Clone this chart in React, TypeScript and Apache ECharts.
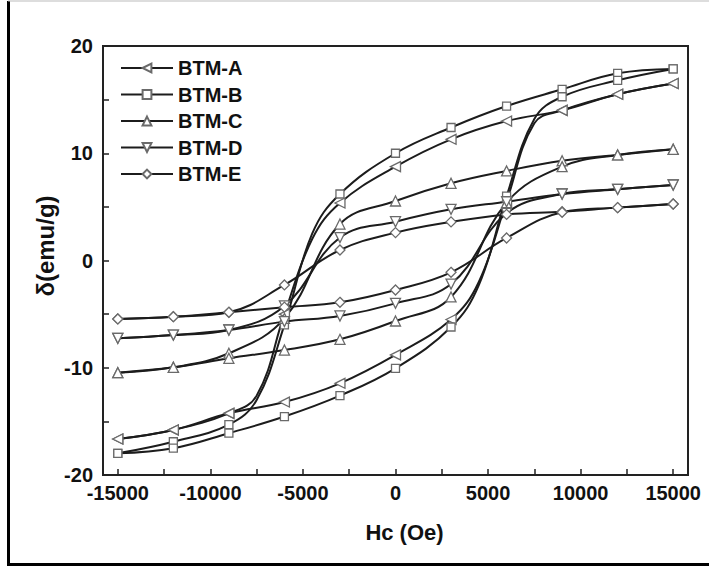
import React, { useEffect, useRef } from "react";
import * as echarts from "echarts";

// Field values (Oe) at which markers are drawn
const xMarked = [15000, 12000, 9000, 6000, 3000, 0, -3000, -6000, -9000, -12000, -15000];
const xMarkedAsc = [-15000, -12000, -9000, -6000, -3000, 0, 3000, 6000, 9000, 12000, 15000];
const xTickLabels = [-15000, -10000, -5000, 0, 5000, 10000, 15000];

// Descending (upper) branches, read at xMarked
const A_upper = [16.5, 15.5, 14.0, 13.0, 11.3, 8.75, 5.36, -5.0, -14.25, -15.8, -16.64];
const B_upper = [17.86, 17.45, 15.96, 14.4, 12.4, 10.0, 6.2, -6.0, -15.3, -16.9, -17.98];
const C_upper = [10.37, 9.84, 9.3, 8.35, 7.2, 5.55, 3.4, -5.4, -8.65, -9.96, -10.46];
const D_upper = [7.04, 6.64, 6.2, 5.48, 4.77, 3.62, 2.14, -4.24, -6.48, -6.95, -7.26];
const E_upper = [5.27, 4.93, 4.55, 4.3, 3.6, 2.6, 0.98, -2.28, -4.83, -5.24, -5.45];

// Ascending (lower) branches, read at xMarkedAsc
const A_lower = [-16.64, -15.8, -14.25, -13.2, -11.45, -8.8, -5.5, 5.5, 14.0, 15.5, 16.5];
const B_lower = [-17.98, -17.5, -16.1, -14.55, -12.6, -10.05, -6.2, 6.0, 15.27, 16.8, 17.86];
const C_lower = [-10.46, -9.96, -9.12, -8.35, -7.35, -5.64, -3.4, 5.4, 8.75, 9.84, 10.37];
const D_lower = [-7.26, -6.95, -6.48, -5.7, -5.17, -4.0, -2.2, 4.4, 6.2, 6.64, 7.04];
const E_lower = [-5.45, -5.24, -4.83, -4.35, -3.9, -2.75, -1.1, 2.1, 4.5, 4.93, 5.27];

// Extra unmarked points read along the steep parts of the curves
const A_upperExtra = [[-4500, 2.0], [-7500, -12.6]];
const B_upperExtra = [[-4500, 2.5], [-7500, -13.0]];
const A_lowerExtra = [[4500, -2.0], [7500, 12.8]];
const B_lowerExtra = [[4500, -2.3], [7500, 13.2]];

const names = ["BTM-A", "BTM-B", "BTM-C", "BTM-D", "BTM-E"];
const symbols = [
  "path://M0,5 L10,0 L10,10 Z",
  "rect",
  "path://M5,0 L10,9 L0,9 Z",
  "path://M0,0 L10,0 L5,9 Z",
  "diamond",
];

const FONT = "'Liberation Sans', Arial, sans-serif";

function buildBranch(xs: number[], ys: number[], extra: number[][], desc: boolean) {
  const pts: any[] = xs.map((x, i) => ({ value: [x, ys[i]] }));
  extra.forEach((p) => pts.push({ value: [p[0], p[1]], symbol: "none" }));
  pts.sort((a, b) => (desc ? b.value[0] - a.value[0] : a.value[0] - b.value[0]));
  return pts;
}

export default function App() {
  const ref = useRef<HTMLDivElement>(null);
  useEffect(() => {
    if (!ref.current) return;
    const chart = echarts.init(ref.current, null, { renderer: "svg" });
    const uppers = [A_upper, B_upper, C_upper, D_upper, E_upper];
    const lowers = [A_lower, B_lower, C_lower, D_lower, E_lower];
    const upEx = [A_upperExtra, B_upperExtra, [], [], []];
    const loEx = [A_lowerExtra, B_lowerExtra, [], [], []];
    const series: any[] = [];
    names.forEach((n, i) => {
      const common = {
        name: n,
        type: "line",
        smooth: 0.4,
        symbol: symbols[i],
        symbolSize: i === 1 ? 8 : 10,
        showAllSymbol: true,
        lineStyle: { color: "#1c1c1c", width: 2 },
        itemStyle: { color: "#ffffff", borderColor: "#6a6a6a", borderWidth: 1.3 },
        emphasis: { disabled: true },
        z: 2,
      };
      series.push({ ...common, data: buildBranch(xMarked, uppers[i], upEx[i], true) });
      series.push({ ...common, data: buildBranch(xMarkedAsc, lowers[i], loEx[i], false) });
    });

    const tickVals: number[] = [];
    for (let v = -15000; v <= 15000; v += 2500) tickVals.push(v);

    chart.setOption({
      animation: false,
      grid: {
        left: 103,
        right: 21,
        top: 46,
        bottom: 95,
        show: true,
        borderColor: "#222",
        borderWidth: 2,
        backgroundColor: "transparent",
      },
      legend: {
        data: names,
        orient: "vertical",
        left: 115,
        top: 53,
        itemWidth: 52,
        itemHeight: 11,
        itemGap: 6.5,
        textStyle: { fontFamily: FONT, fontWeight: "bold", fontSize: 20, color: "#111" },
        selectedMode: false,
      },
      xAxis: {
        type: "value",
        min: -15800,
        max: 15800,
        name: "Hc (Oe)",
        nameLocation: "middle",
        nameGap: 46,
        nameTextStyle: { fontFamily: FONT, fontWeight: "bold", fontSize: 22, color: "#111", padding: [0, 0, 0, 18] },
        axisLine: { show: true, onZero: false, lineStyle: { color: "#222", width: 2 } },
        axisTick: { show: true, inside: true, length: 6, customValues: tickVals, lineStyle: { color: "#222", width: 1.5 } },
        axisLabel: {
          customValues: xTickLabels,
          margin: 8,
          fontFamily: FONT,
          fontWeight: "bold",
          fontSize: 20,
          color: "#111",
          formatter: (v: number) => String(v),
        },
        splitLine: { show: false },
      },
      yAxis: {
        type: "value",
        min: -20,
        max: 20,
        interval: 5,
        axisLine: { show: true, onZero: false, lineStyle: { color: "#222", width: 2 } },
        axisTick: { show: true, inside: true, length: 6, lineStyle: { color: "#222", width: 1.5 } },
        axisLabel: {
          margin: 10,
          fontFamily: FONT,
          fontWeight: "bold",
          fontSize: 20,
          color: "#111",
          formatter: (v: number) => (v % 10 === 0 ? String(v) : ""),
        },
        splitLine: { show: false },
      },
      graphic: [
        { type: "line", shape: { x1: 8.5, y1: 1, x2: 8.5, y2: 565 }, style: { stroke: "#000", lineWidth: 3 } },
        { type: "line", shape: { x1: 7, y1: 564.5, x2: 709, y2: 564.5 }, style: { stroke: "#000", lineWidth: 3 } },
        { type: "line", shape: { x1: 8, y1: 1, x2: 709, y2: 1 }, style: { stroke: "#bbb", lineWidth: 1 } },
        {
          type: "text",
          x: 45,
          y: 246,
          rotation: Math.PI / 2,
          style: {
            text: "δ(emu/g)",
            fontFamily: FONT,
            fontWeight: "bold",
            fontSize: 24,
            fill: "#111",
            align: "center",
            verticalAlign: "middle",
          },
        },
      ],
      series,
    });
    return () => chart.dispose();
  }, []);
  return (
    <div
      ref={ref}
      style={{ position: "fixed", left: 0, top: 0, width: 709, height: 570, background: "#fff" }}
    />
  );
}
